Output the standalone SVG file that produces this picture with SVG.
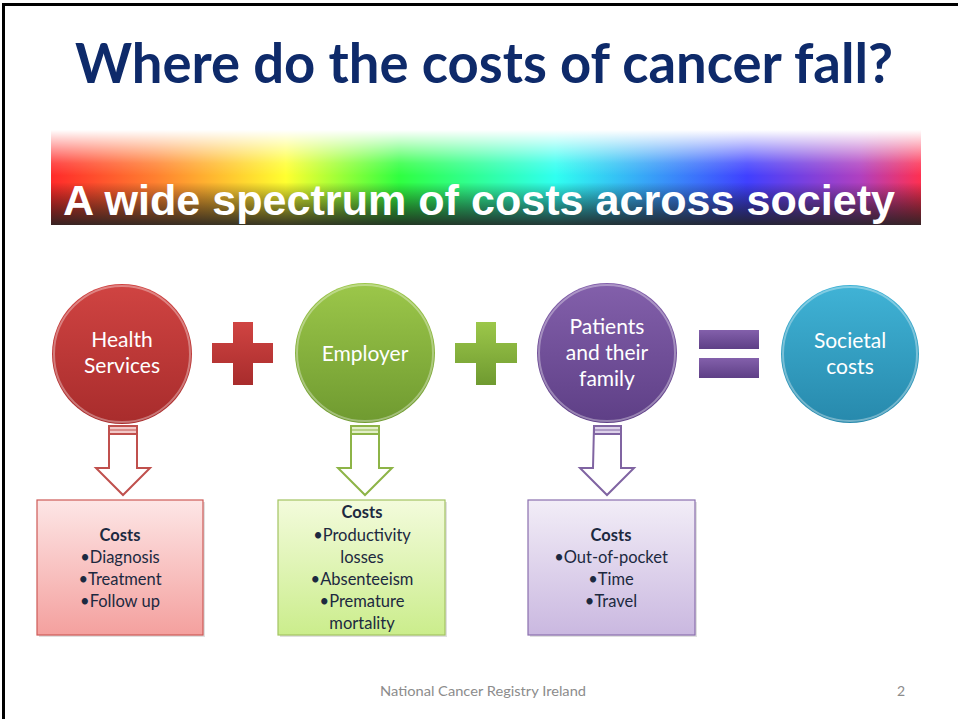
<svg xmlns="http://www.w3.org/2000/svg" width="958" height="719" viewBox="0 0 958 719">
<style>
.title{font-family:Lato,"Open Sans","Liberation Sans",sans-serif;font-weight:bold;font-size:56px;fill:#0e2a6a}
.band{font-family:"Liberation Sans",Arial,sans-serif;font-weight:bold;font-size:43px;fill:#fff}
.ct{font-family:Lato,"Open Sans","Liberation Sans",sans-serif;font-size:21px;fill:#fff;text-anchor:middle}
.bt{font-family:Lato,"Open Sans","Liberation Sans",sans-serif;font-size:16.5px;fill:#1c2940;text-anchor:middle}
.bt .h{font-weight:bold}
.foot{font-family:Lato,"Open Sans","Liberation Sans",sans-serif;font-size:14px;fill:#8c8c8c}
.rim{fill:none;stroke:#fff;stroke-opacity:0.35;stroke-width:2}
</style>
<defs>
<linearGradient id="rainbow" x1="0" y1="0" x2="1" y2="0">
<stop offset="0" stop-color="#ff2a2a"/>
<stop offset="0.12" stop-color="#ff8030"/>
<stop offset="0.27" stop-color="#ffff30"/>
<stop offset="0.4" stop-color="#30ff40"/>
<stop offset="0.58" stop-color="#30fff0"/>
<stop offset="0.8" stop-color="#4040ff"/>
<stop offset="0.93" stop-color="#b040c0"/>
<stop offset="1" stop-color="#ff3050"/>
</linearGradient>
<linearGradient id="shade" x1="0" y1="0" x2="0" y2="1">
<stop offset="0" stop-color="#fff" stop-opacity="1"/>
<stop offset="0.35" stop-color="#fff" stop-opacity="0.15"/>
<stop offset="0.48" stop-color="#fff" stop-opacity="0"/>
<stop offset="0.55" stop-color="#000" stop-opacity="0"/>
<stop offset="1" stop-color="#222" stop-opacity="0.9"/>
</linearGradient>
<linearGradient id="gRed" x1="0" y1="0" x2="0" y2="1"><stop offset="0" stop-color="#d04442"/><stop offset="1" stop-color="#a82c2c"/></linearGradient>
<linearGradient id="gGreen" x1="0" y1="0" x2="0" y2="1"><stop offset="0" stop-color="#9cc74a"/><stop offset="1" stop-color="#6f9a30"/></linearGradient>
<linearGradient id="gPurple" x1="0" y1="0" x2="0" y2="1"><stop offset="0" stop-color="#8360ab"/><stop offset="1" stop-color="#5e3f86"/></linearGradient>
<linearGradient id="gTeal" x1="0" y1="0" x2="0" y2="1"><stop offset="0" stop-color="#40b3d6"/><stop offset="1" stop-color="#2789ac"/></linearGradient>
<linearGradient id="bRed" x1="0" y1="0" x2="0" y2="1"><stop offset="0" stop-color="#fde6e6"/><stop offset="1" stop-color="#f4a09e"/></linearGradient>
<linearGradient id="bGreen" x1="0" y1="0" x2="0" y2="1"><stop offset="0" stop-color="#f3fbdc"/><stop offset="1" stop-color="#cbed8c"/></linearGradient>
<linearGradient id="bPurple" x1="0" y1="0" x2="0" y2="1"><stop offset="0" stop-color="#f2edf7"/><stop offset="1" stop-color="#cab8e0"/></linearGradient>
</defs>
<rect width="958" height="719" fill="#fff"/>
<path d="M3.5 719 V4.5 H958" fill="none" stroke="#000" stroke-width="3"/>
<text class="title" x="484" y="83" text-anchor="middle" textLength="818" lengthAdjust="spacingAndGlyphs">Where do the costs of cancer fall?</text>
<g id="band">
<rect x="51" y="130" width="870" height="95" fill="url(#rainbow)"/>
<rect x="51" y="130" width="870" height="95" fill="url(#shade)"/>
<text class="band" x="63" y="215" textLength="832" lengthAdjust="spacingAndGlyphs">A wide spectrum of costs across society</text>
</g>
<g id="operators">
<path d="M233 322 h20 v21 h20 v20 h-20 v22 h-20 v-22 h-21 v-20 h21 z" fill="url(#gRed)"/>
<path d="M476 322 h20 v21 h21 v20 h-21 v22 h-20 v-22 h-21 v-20 h21 z" fill="url(#gGreen)"/>
<rect x="699" y="330" width="60" height="19" fill="url(#gPurple)"/>
<rect x="699" y="358" width="60" height="20" fill="url(#gPurple)"/>
</g>
<g id="health">
<circle cx="122" cy="354" r="70" fill="url(#gRed)"/>
<circle cx="122" cy="354" r="68" class="rim"/>
<text class="ct" x="122" y="347">Health</text>
<text class="ct" x="122" y="373">Services</text>
</g>
<g id="employer">
<circle cx="365" cy="353" r="70" fill="url(#gGreen)"/>
<circle cx="365" cy="353" r="68" class="rim"/>
<text class="ct" x="365" y="361">Employer</text>
</g>
<g id="patients">
<circle cx="607" cy="353" r="70" fill="url(#gPurple)"/>
<circle cx="607" cy="353" r="68" class="rim"/>
<text class="ct" x="607" y="334">Patients</text>
<text class="ct" x="607" y="360">and their</text>
<text class="ct" x="607" y="386">family</text>
</g>
<g id="societal">
<circle cx="850" cy="354" r="69" fill="url(#gTeal)"/>
<circle cx="850" cy="354" r="67" class="rim"/>
<text class="ct" x="850" y="348">Societal</text>
<text class="ct" x="850" y="374">costs</text>
</g>
<g id="connectors" fill="#fff" stroke-width="2">
<g stroke="#c0504d">
<path d="M109 426 h28 v42 h13 l-27 27 l-27 -27 h13 z"/>
<rect x="109" y="426" width="28" height="8" fill="#f2c9c8"/>
<line x1="109" y1="430" x2="137" y2="430" stroke-width="1"/>
</g>
<g stroke="#8db447">
<path d="M351 426 h28 v42 h13 l-27 27 l-27 -27 h13 z"/>
<rect x="351" y="426" width="28" height="8" fill="#e2efc8"/>
<line x1="351" y1="430" x2="379" y2="430" stroke-width="1"/>
</g>
<g stroke="#8064a2">
<path d="M594 426 h27 v42 h13 l-27 27 l-27 -27 h13 z"/>
<rect x="594" y="426" width="27" height="8" fill="#ddd2ea"/>
<line x1="594" y1="430" x2="621" y2="430" stroke-width="1"/>
</g>
</g>
<g id="box-health">
<rect x="39" y="502" width="166" height="135" fill="#000" opacity="0.12"/>
<rect x="37" y="500" width="166" height="135" fill="url(#bRed)" stroke="#cd5a57" stroke-width="1.2"/>
<text class="bt" x="120" y="541"><tspan class="h">Costs</tspan></text>
<text class="bt" x="120" y="563">•Diagnosis</text>
<text class="bt" x="120" y="585">•Treatment</text>
<text class="bt" x="120" y="607">•Follow up</text>
</g>
<g id="box-employer">
<rect x="280" y="502" width="167" height="135" fill="#000" opacity="0.12"/>
<rect x="278" y="500" width="167" height="135" fill="url(#bGreen)" stroke="#a3c463" stroke-width="1.2"/>
<text class="bt" x="362" y="518"><tspan class="h">Costs</tspan></text>
<text class="bt" x="362" y="541">•Productivity</text>
<text class="bt" x="362" y="563">losses</text>
<text class="bt" x="362" y="585">•Absenteeism</text>
<text class="bt" x="362" y="607">•Premature</text>
<text class="bt" x="362" y="629">mortality</text>
</g>
<g id="box-patients">
<rect x="530" y="502" width="167" height="135" fill="#000" opacity="0.12"/>
<rect x="528" y="500" width="167" height="135" fill="url(#bPurple)" stroke="#8a6fae" stroke-width="1.2"/>
<text class="bt" x="611" y="541"><tspan class="h">Costs</tspan></text>
<text class="bt" x="611" y="563">•Out-of-pocket</text>
<text class="bt" x="611" y="585">•Time</text>
<text class="bt" x="611" y="607">•Travel</text>
</g>
<text class="foot" x="380" y="696" textLength="206" lengthAdjust="spacingAndGlyphs">National Cancer Registry Ireland</text>
<text class="foot" x="897" y="696">2</text>
</svg>
